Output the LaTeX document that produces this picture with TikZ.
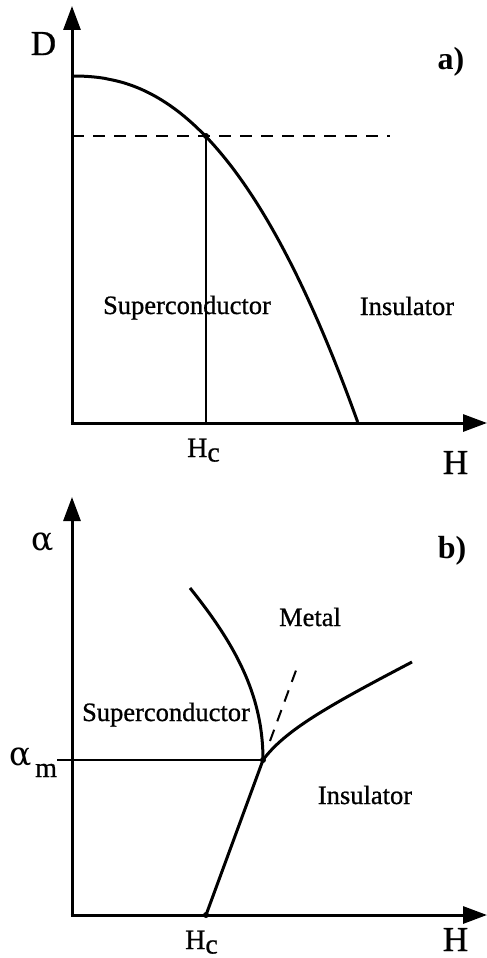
\documentclass[tikz,border=0pt]{standalone}
\usepackage{fontspec}
\setmainfont{Liberation Serif}
\newfontfamily\txt{Liberation Serif}[FakeBold=0.8]
\newfontfamily\grk{DejaVu Serif}
\usetikzlibrary{arrows.meta,calc}
\tikzset{
  axis/.style={line width=3pt, -{Triangle[length=24pt,width=17pt]}},
  curve/.style={line width=3pt},
  thinline/.style={line width=1.5pt},
  dashline/.style={line width=2pt, dash pattern=on 12pt off 9pt},
  lbl/.style={inner sep=0pt, anchor=base, font=\txt\fontsize{26.5}{30}\selectfont},
  axlbl/.style={inner sep=0pt, anchor=base, font=\txt\fontsize{35}{40}\selectfont},
  sublbl/.style={inner sep=0pt, anchor=base west, font=\txt\fontsize{28}{32}\selectfont},
  greek/.style={inner sep=0pt, anchor=base west, font=\grk\fontsize{33}{36}\selectfont},
  panel/.style={inner sep=0pt, anchor=base, font=\fontsize{32}{36}\selectfont\bfseries},
  dot/.style={circle, fill=black, inner sep=0pt, minimum size=6pt}
}
\newcommand{\Hcsub}{H\raisebox{-4.5pt}{c}}
\begin{document}
\begin{tikzpicture}[x=1pt,y=-1pt]
\useasboundingbox (0,0) rectangle (487,958);
% ---------- panel a ----------
\coordinate (Oa) at (72,423);
\coordinate (Ya) at (72,6);
\coordinate (Xa) at (487,423);
\coordinate (Da) at (72,136);
\coordinate (Ea) at (390,136);
\coordinate (Ba) at (206,423);
\node[dot] (Pa) at (206,136) {};
\draw[axis] ($(Oa)+(0,1.5)$) -- (Ya);
\draw[axis] ($(Oa)+(-1.5,0)$) -- (Xa);
\draw[dashline] (Da) -- (Ea);
\draw[thinline] (Pa.center) -- (Ba);
\draw[curve] (72,76) -- plot[domain=0.002:1, samples=80, smooth] ({72+286*\x},{423-347*(1-(\x)^2.3)});
\node[axlbl] (Dlab) at (43.5,55) {D};
\node[panel] (alab) at (451,70) {a)};
\node[lbl] (SCa) at (187,314) {Superconductor};
\node[lbl] (INa) at (407,315) {Insulator};
\node[sublbl] (Hca) at (187,457) {\Hcsub};
\node[axlbl] (Ha) at (455.5,474) {H};
% ---------- panel b ----------
\coordinate (Ob) at (72,915);
\coordinate (Yb) at (72,497);
\coordinate (Xb) at (487,915);
\node[dot] (T) at (263,760) {};
\node[dot] (Hcb) at (206,915) {};
\coordinate (Am) at (57,760);
\coordinate (SCtop) at (190,588);
\coordinate (Rend) at (412,662);
\coordinate (DashS) at (270,741);
\coordinate (DashE) at (298,665);
\draw[axis] ($(Ob)+(0,1.5)$) -- (Yb);
\draw[axis] ($(Ob)+(-1.5,0)$) -- (Xb);
\draw[thinline] (Am) -- (T.center);
\draw[curve] (Hcb.center) -- (T.center);
\draw[curve] (T.center) .. controls (263,700) and (240,650) .. (SCtop);
\draw[curve] (T.center) .. controls (285,730) and (330,705) .. (Rend);
\draw[dashline] (DashS) -- (DashE);
\node[greek] (alpha) at (31,550) {α};
\node[panel] (blab) at (452,558) {b)};
\node[lbl] (Metal) at (310,626) {Metal};
\node[lbl] (SCb) at (166,721) {Superconductor};
\node[lbl] (INb) at (365,804) {Insulator};
\node[greek] (alm) at (9,765) {α};
\node[sublbl] (msub) at (35,777) {m};
\node[sublbl] (Hcbl) at (185,949) {\Hcsub};
\node[axlbl] (Hb) at (455.5,951) {H};
\end{tikzpicture}
\end{document}
